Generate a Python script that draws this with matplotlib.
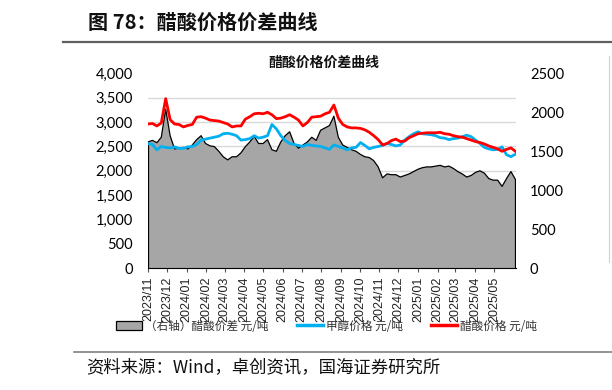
import pandas as pd
import matplotlib.pyplot as plt
from matplotlib.patches import Patch
from matplotlib.lines import Line2D
import numpy as np

plt.rcParams['font.family'] = ['Noto Sans CJK SC', 'DejaVu Sans']

# weekly observations, 2023-11-01 .. 2025-06-04
dates = pd.date_range('2023-11-01', periods=84, freq='7D')

# acetic acid price, yuan/t (left axis)
acetic = [2960, 2970, 2920, 2980, 3480, 3050, 2960, 2950, 2900, 2930,
          2950, 3100, 3110, 3080, 3040, 3030, 3020, 2990, 2960, 2900,
          2920, 2920, 3060, 3110, 3170, 3180, 3170, 3200, 3150, 3070,
          3080, 3110, 3150, 3100, 3040, 2920, 2990, 3100, 3110, 3120,
          3170, 3200, 3350, 3080, 2950, 2900, 2880, 2880, 2870, 2840,
          2790, 2720, 2640, 2530, 2560, 2620, 2650, 2600, 2610, 2680,
          2720, 2760, 2770, 2780, 2780, 2780, 2790, 2760, 2750, 2720,
          2700, 2690, 2660, 2630, 2600, 2580, 2550, 2510, 2480, 2450,
          2400, 2440, 2470, 2400]

# methanol price, yuan/t (left axis)
methanol = [2560, 2540, 2430, 2500, 2480, 2470, 2490, 2460, 2460, 2490,
            2500, 2540, 2630, 2650, 2670, 2690, 2710, 2760, 2770, 2750,
            2720, 2630, 2640, 2660, 2720, 2670, 2690, 2720, 2950, 2860,
            2720, 2620, 2560, 2540, 2520, 2500, 2540, 2520, 2510, 2500,
            2470, 2440, 2530, 2500, 2470, 2430, 2470, 2480, 2580, 2520,
            2450, 2480, 2500, 2520, 2560, 2540, 2510, 2530, 2630, 2700,
            2760, 2800, 2760, 2750, 2740, 2720, 2680, 2670, 2640, 2660,
            2670, 2700, 2730, 2700, 2630, 2560, 2480, 2450, 2430, 2440,
            2490, 2330, 2290, 2340]

# acetic acid spread, yuan/t (right axis)
spread = [1620, 1640, 1610, 1680, 2040, 1700, 1530, 1540, 1550, 1530,
          1580, 1650, 1700, 1600, 1570, 1560, 1500, 1430, 1390, 1430,
          1430, 1480, 1560, 1620, 1690, 1600, 1600, 1650, 1520, 1500,
          1620, 1700, 1750, 1600, 1540, 1580, 1620, 1680, 1640, 1770,
          1800, 1830, 1950, 1680, 1580, 1550, 1520, 1500, 1460, 1430,
          1420, 1380, 1300, 1160, 1210, 1200, 1200, 1170, 1190, 1210,
          1240, 1270, 1290, 1300, 1300, 1310, 1320, 1300, 1310, 1280,
          1240, 1210, 1170, 1190, 1230, 1250, 1220, 1150, 1130, 1130,
          1050, 1150, 1240, 1140]

left_ticks = [0, 500, 1000, 1500, 2000, 2500, 3000, 3500, 4000]
right_ticks = [0, 500, 1000, 1500, 2000, 2500]
month_ticks = pd.date_range('2023-11-01', '2025-05-01', freq='MS')
month_labels = [d.strftime('%Y/%m') for d in month_ticks]

fig = plt.figure(figsize=(6.12, 3.9), dpi=100)

# area axis (right scale) sits underneath the price lines
ax_area = fig.add_axes([148 / 612, 1 - 268.3 / 390, 368 / 612, 195 / 390])
ax_lines = ax_area.twinx()

ax_area.fill_between(dates, spread, 0, facecolor='#a6a6a6', edgecolor='none', zorder=2)
ax_area.plot(dates, spread, color='black', lw=0.9, zorder=3)
ax_area.vlines([dates[0], dates[-1]], 0, [spread[0], spread[-1]], color='black', lw=0.9, zorder=3)
ax_area.set_ylim(0, 2500)
ax_area.set_xlim(dates[0], dates[-1] + pd.Timedelta(days=1))

ax_lines.plot(dates, methanol, color='#00b0f0', lw=2.0, solid_joinstyle='round')
ax_lines.plot(dates, acetic, color='#ff0000', lw=2.0, solid_joinstyle='round')
ax_lines.set_ylim(0, 4000)

# swap sides: spread scale on the right, price scale on the left
ax_area.yaxis.tick_right()
ax_area.set_yticks(right_ticks)
ax_area.set_yticklabels([str(t) for t in right_ticks], family='Lato', fontsize=10.5)
ax_area.set_yticks(np.array(left_ticks[1:]) * 2500 / 4000, minor=True)
ax_area.yaxis.set_minor_formatter(plt.NullFormatter())
ax_area.grid(axis='y', which='minor', color='#d9d9d9', lw=1, zorder=0)
ax_area.tick_params(axis='y', which='both', length=0, pad=10, left=False, labelleft=False,
                    right=False, labelright=True)

ax_lines.yaxis.tick_left()
ax_lines.set_yticks(left_ticks)
ax_lines.set_yticklabels([f'{t:,}' for t in left_ticks], family='Lato', fontsize=10.5)
ax_lines.tick_params(axis='y', length=0, pad=11, right=False, labelright=False,
                     left=False, labelleft=True)

for a in (ax_area, ax_lines):
    for s in ('left', 'right', 'top'):
        a.spines[s].set_visible(False)
ax_area.spines['bottom'].set_color('black')
ax_lines.spines['bottom'].set_visible(False)

ax_area.set_xticks(month_ticks)
ax_area.set_xticklabels(month_labels, rotation=90, fontsize=9, family='Liberation Sans',
                        color='#222222')
ax_area.tick_params(axis='x', length=3, width=0.8, color='#555555', pad=3)

# legend
handles = [Patch(facecolor='#a6a6a6', edgecolor='black', lw=0.9),
           Line2D([], [], color='#00b0f0', lw=2.5),
           Line2D([], [], color='#ff0000', lw=2.5)]
labels = ['（右轴）醋酸价差 元/吨', '甲醇价格 元/吨', '醋酸价格 元/吨']
fig.legend(handles, labels, loc='center', bbox_to_anchor=(0.534, 1 - 326 / 390), ncol=3,
           frameon=False, fontsize=8.4, handlelength=2.2, handleheight=0.8,
           handletextpad=0.3, columnspacing=2.4, labelcolor='#333333')

# titles and frame text
fig.text(88 / 612, 1 - 22 / 390, '图 78：醋酸价格价差曲线', fontsize=14.5, fontweight='bold',
         va='center', ha='left', color='#111111')
fig.text(324 / 612, 1 - 63 / 390, '醋酸价格价差曲线', fontsize=10, fontweight='bold',
         va='center', ha='center', color='#111111')
fig.add_artist(Line2D([63 / 612, 1.0], [1 - 42 / 390] * 2, color='#606060', lw=1.6))
fig.add_artist(Line2D([74 / 612, 1.0], [1 - 352 / 390] * 2, color='#808080', lw=1.2))
fig.add_artist(Line2D([609 / 612] * 2, [1 - 56 / 390, 1 - 262 / 390], color='#d0d0d0', lw=0.8))
fig.text(86 / 612, 1 - 368 / 390, '资料来源：Wind，卓创资讯，国海证券研究所', fontsize=12.5,
         va='center', ha='left', color='#111111')

fig.savefig('out.png', dpi=100)
